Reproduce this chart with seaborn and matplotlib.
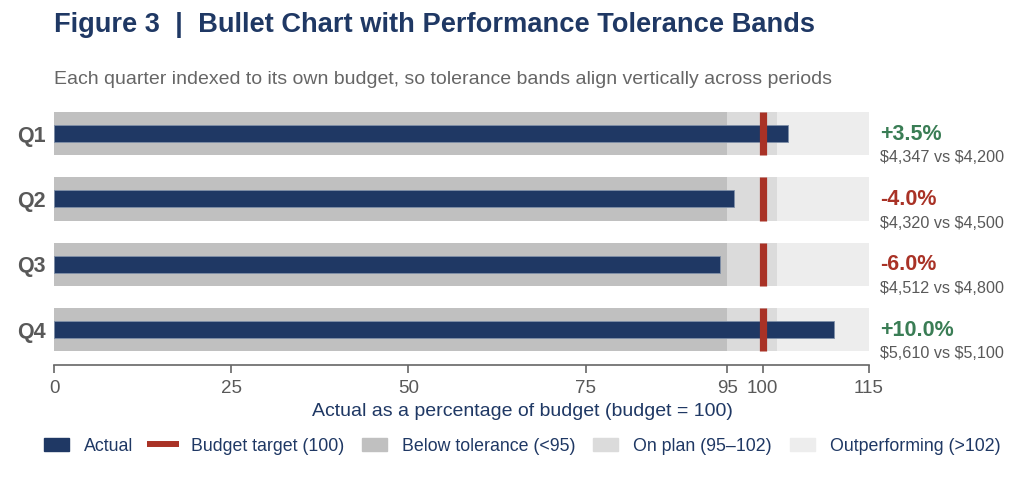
import matplotlib
matplotlib.use("Agg")
import matplotlib.pyplot as plt
import seaborn as sns
import pandas as pd
from matplotlib.patches import Patch, Rectangle
from matplotlib.lines import Line2D
from matplotlib.legend_handler import HandlerPatch
import matplotlib.transforms as mtransforms

quarters = ["Q1", "Q2", "Q3", "Q4"]
actual_dollars = [4347, 4320, 4512, 5610]
budget_dollars = [4200, 4500, 4800, 5100]
actual_pct = [103.5, 96.0, 94.0, 110.0]
variance_labels = ["+3.5%", "-4.0%", "-6.0%", "+10.0%"]
band_edges = [95, 102, 115]
target = 100
xticks = [0, 25, 50, 75, 95, 100, 115]

NAVY = "#1F3864"
RED = "#A93226"
GREEN = "#3A7D55"
BAND_DARK = "#C0C0C0"
BAND_MID = "#DBDBDB"
BAND_LIGHT = "#EDEDED"
GRAY_TXT = "#595959"

sns.set_theme(style="white")
plt.rcParams["font.family"] = ["Liberation Sans", "DejaVu Sans"]
plt.rcParams["text.parse_math"] = False

fig = plt.figure(figsize=(10.24, 4.78), dpi=100)
ax = fig.add_axes([54 / 1024, 1 - 365 / 478, (869 - 54) / 1024, (365 - 112) / 478])

df = pd.DataFrame({"quarter": quarters, "pct": actual_pct})
band_df = pd.DataFrame({"quarter": quarters})

band_w = 0.66
for edge, col in zip(reversed(band_edges), [BAND_LIGHT, BAND_MID, BAND_DARK]):
    sns.barplot(data=band_df.assign(v=edge), x="v", y="quarter", orient="h",
                color=col, saturation=1, width=band_w, ax=ax, linewidth=0,
                errorbar=None)

sns.barplot(data=df, x="pct", y="quarter", orient="h", color=NAVY, saturation=1,
            width=0.26, ax=ax, edgecolor="#8090A8", linewidth=0.6, errorbar=None)

for i in range(len(quarters)):
    ax.vlines(target, i - band_w / 2, i + band_w / 2, color=RED, linewidth=5.2, zorder=5)

ax.set_xlim(0, 115)
ax.set_ylim(3.54, -0.33)
ax.set_xticks(xticks)
ax.set_xticklabels([str(t) for t in xticks], fontsize=13.5, color=GRAY_TXT)
ax.tick_params(axis="x", bottom=True, length=6, width=1.2, color="#666666", pad=5)
ax.tick_params(axis="y", left=False, length=0, pad=6)
ax.set_yticks(range(len(quarters)))
ax.set_yticklabels(quarters, fontsize=15.5, fontweight="bold", color=GRAY_TXT)
ax.set_ylabel("")
ax.set_xlabel("")
for s in ["top", "right", "left"]:
    ax.spines[s].set_visible(False)
ax.spines["bottom"].set_color("#666666")
ax.spines["bottom"].set_linewidth(1.2)
fig.text(522 / 1024, 1 - 412 / 478, "Actual as a percentage of budget (budget = 100)",
         fontsize=14, color=NAVY, va="center", ha="center")

trans = mtransforms.blended_transform_factory(ax.transAxes, ax.transData)
for i, (lab, a, b) in enumerate(zip(variance_labels, actual_dollars, budget_dollars)):
    col = GREEN if lab.startswith("+") else RED
    ax.text(1.0135, i + 0.01, lab, transform=trans, fontsize=15.5, fontweight="bold",
            color=col, va="center", ha="left", clip_on=False)
    ax.text(1.0135, i + 0.37, f"${a:,} vs ${b:,}", transform=trans, fontsize=11.6,
            color=GRAY_TXT, va="center", ha="left", clip_on=False)

fig.text(54 / 1024, 1 - 25 / 478, "Figure 3  |  Bullet Chart with Performance Tolerance Bands",
         fontsize=19.6, fontweight="bold", color=NAVY, va="center", ha="left")
fig.text(54 / 1024, 1 - 80 / 478,
         "Each quarter indexed to its own budget, so tolerance bands align vertically across periods",
         fontsize=14, color="#666666", va="center", ha="left")


def small_rect(legend, orig_handle, xdescent, ydescent, width, height, fontsize):
    w = width * 0.78
    h = 13 * 72 / 100
    return Rectangle((-xdescent + (width - w) / 2, -ydescent + (height - h) / 2), w, h)


handles = [
    Patch(facecolor=NAVY, edgecolor=NAVY),
    Line2D([0], [0], color=RED, linewidth=4.3, solid_capstyle="butt"),
    Patch(facecolor=BAND_DARK, edgecolor=BAND_DARK),
    Patch(facecolor=BAND_MID, edgecolor=BAND_MID),
    Patch(facecolor=BAND_LIGHT, edgecolor=BAND_LIGHT),
]
labels = ["Actual", "Budget target (100)", "Below tolerance (<95)",
          "On plan (95\u2013102)", "Outperforming (>102)"]
leg = fig.legend(handles, labels, loc="center", bbox_to_anchor=(0.508, 1 - 446 / 478),
                 ncol=5, frameon=False, fontsize=12.8, handlelength=1.8, handleheight=0.9,
                 columnspacing=0.8, handletextpad=0.65,
                 handler_map={Patch: HandlerPatch(patch_func=small_rect)})
for t in leg.get_texts():
    t.set_color(NAVY)

fig.savefig("out.png", dpi=100)
